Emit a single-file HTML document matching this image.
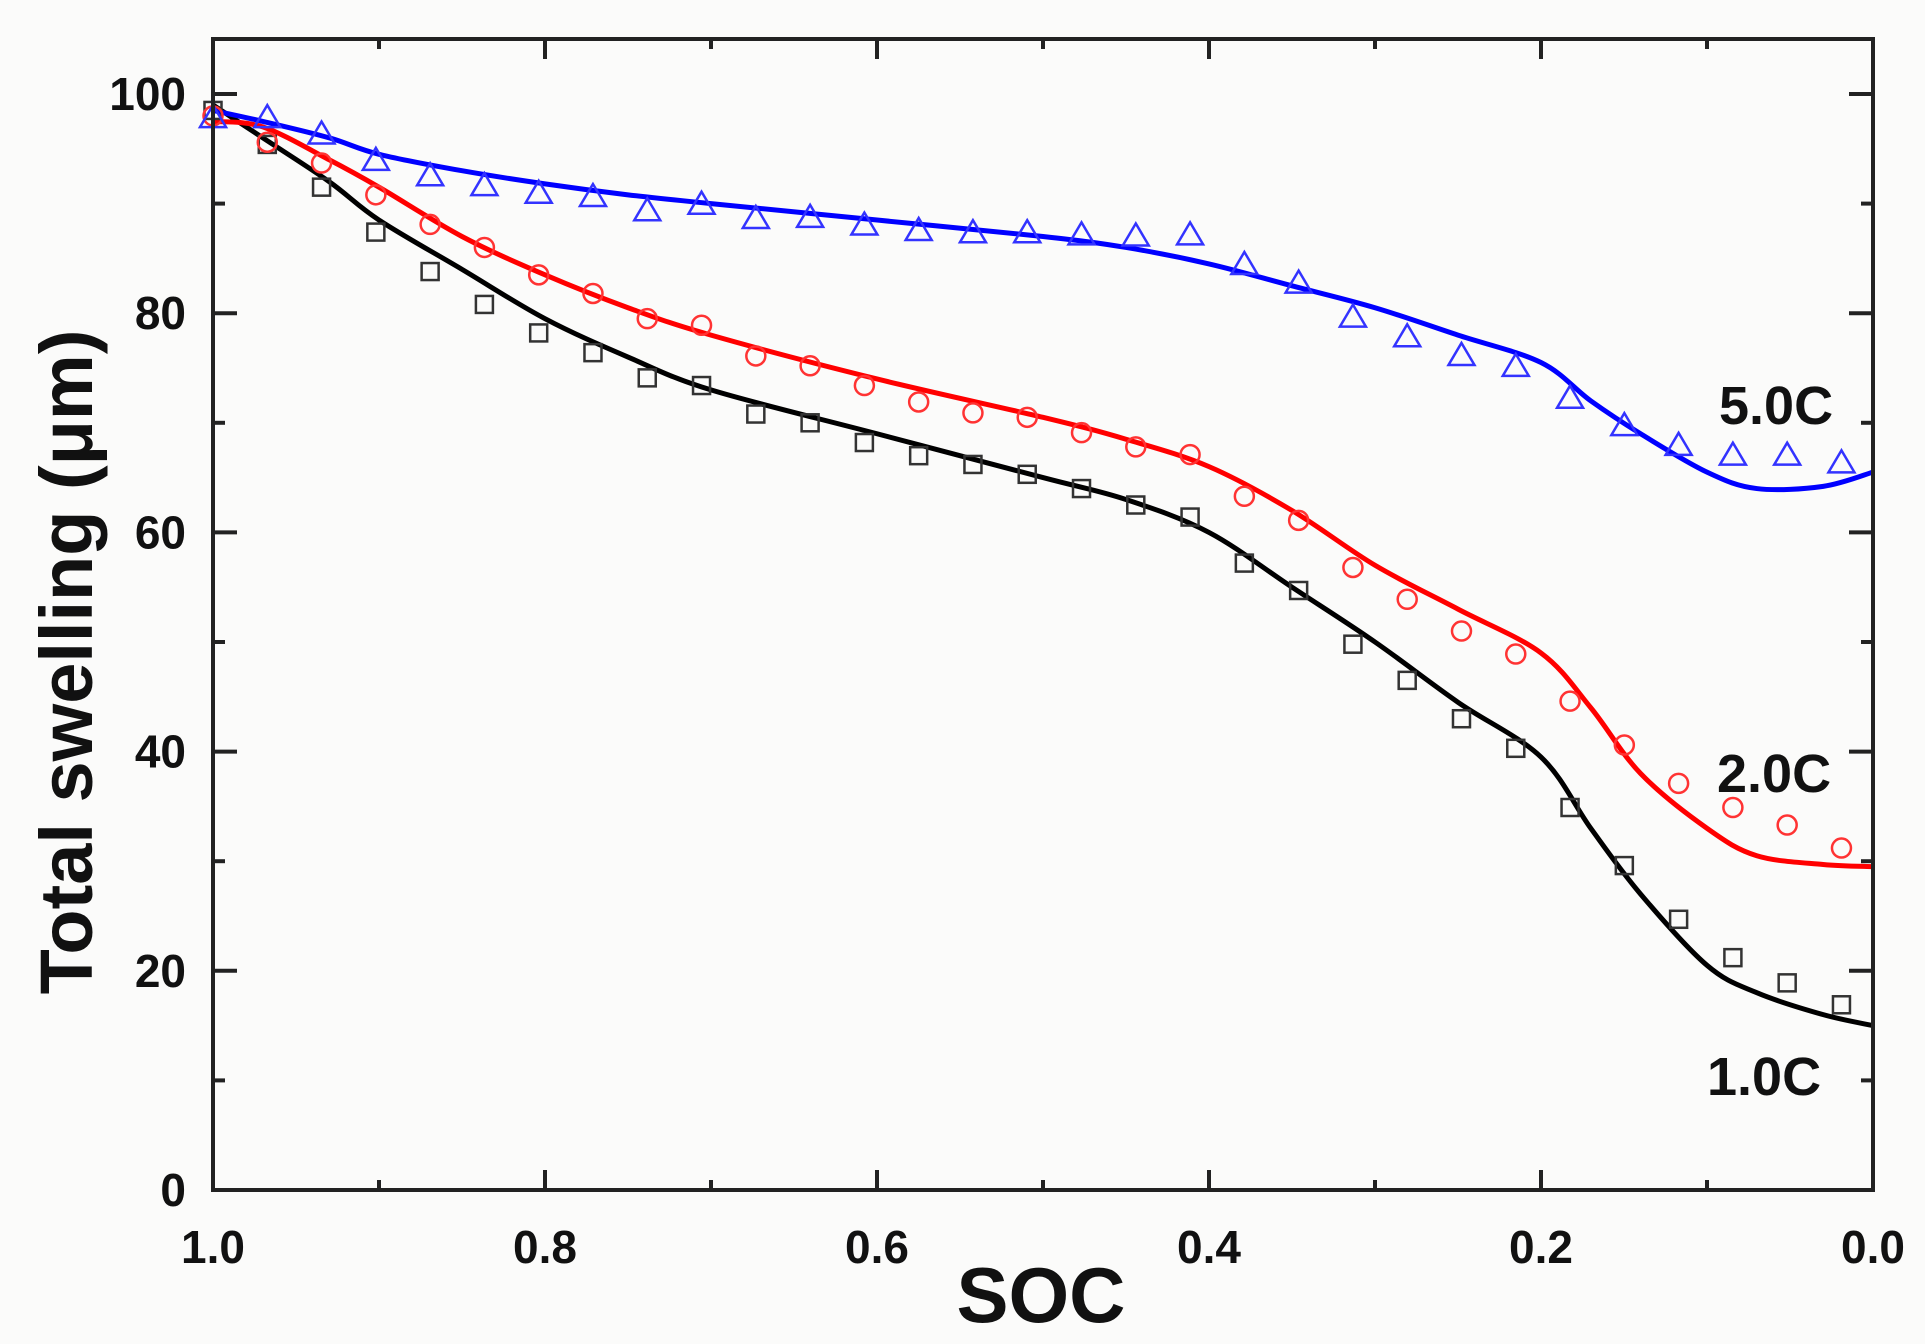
<!DOCTYPE html>
<html><head><meta charset="utf-8"><style>
html,body{margin:0;padding:0;background:#fbfbfa;}
svg{display:block;font-family:"Liberation Sans",Arial,sans-serif;font-weight:bold;}
</style></head><body>
<svg id="chart" width="1925" height="1344" viewBox="0 0 1925 1344" xmlns="http://www.w3.org/2000/svg">
<rect width="1925" height="1344" fill="#fbfbfa"/>
<g id="marks"></g>
<rect x="213" y="39" width="1660" height="1151" fill="none" stroke="#222" stroke-width="4"/>
<g id="ticks"></g>
<text x="1041" y="1322" font-size="78" text-anchor="middle" fill="#111">SOC</text>
<text transform="translate(92,662) rotate(-90)" font-size="74" text-anchor="middle" fill="#111">Total swelling (μm)</text>
<text x="1719" y="424" font-size="54" fill="#111">5.0C</text>
<text x="1717" y="792" font-size="54" fill="#111">2.0C</text>
<text x="1707" y="1095" font-size="54" fill="#111">1.0C</text>
</svg>
<script>
const xTicks=[1.0,0.8,0.6,0.4,0.2,0.0];
const xTickLabels=["1.0","0.8","0.6","0.4","0.2","0.0"];
const yTicks=[0,20,40,60,80,100];
const yTickLabels=["0","20","40","60","80","100"];
const black=[98.5,95.4,91.5,87.4,83.8,80.8,78.2,76.4,74.1,73.4,70.8,70.0,68.2,67.0,66.2,65.3,64.0,62.5,61.4,57.2,54.7,49.8,46.5,43.0,40.3,34.9,29.6,24.7,21.2,18.9,16.9];
const red=[98,95.6,93.7,90.8,88.1,86.0,83.5,81.8,79.5,78.9,76.1,75.2,73.4,71.9,70.9,70.5,69.1,67.8,67.1,63.3,61.1,56.8,53.9,51.0,48.9,44.6,40.6,37.1,34.9,33.3,31.2];
const blue=[97.8,97.8,96.3,93.9,92.5,91.6,90.9,90.6,89.3,89.9,88.6,88.7,88.0,87.5,87.3,87.3,87.1,87.0,87.1,84.4,82.7,79.6,77.8,76.1,75.1,72.2,69.7,67.9,67.0,67.0,66.3];
const fitSoc=[1.0,0.97,0.93,0.9,0.85,0.8,0.75,0.7,0.6,0.5,0.45,0.4,0.35,0.3,0.25,0.2,0.17,0.14,0.1,0.07,0.03,0.0];
const fitBlack=[99,96,92,88.5,84,79.5,76,73,69,65,63,60,55,50,44.5,39.5,33,27,20.5,18,16,15];
const fitRed=[97.5,97,94,91.5,87,83.5,80.5,78,74,70.5,68.5,66,62,57,53,49,44,38,33,30.5,29.7,29.5];
const fitBlue=[98.5,97.5,96,94.5,93,91.8,90.8,90,88.5,87,86,84.5,82.5,80.5,78,75.5,72,69,65.5,64,64.2,65.5];
const SOC_STEP=0.0327;
const X=s=>213+(1-s)*1660;
const Y=v=>1190-v*10.96;
const NS="http://www.w3.org/2000/svg";
const marks=document.getElementById('marks'), ticks=document.getElementById('ticks');
function mk(t,a,p){const e=document.createElementNS(NS,t);for(const k in a)e.setAttribute(k,a[k]);p.appendChild(e);return e;}
xTicks.forEach((s,i)=>{
 const x=X(s);
 const a=mk('line',{x1:x,x2:x,y1:1190,y2:1170,stroke:'#222','stroke-width':4},ticks);
 
 
 const b=mk('line',{x1:x,x2:x,y1:39,y2:59,stroke:'#222','stroke-width':4},ticks);
 
 
 if(i<xTicks.length-1){const xm=X(s-0.1);
  const m=mk('line',{x1:xm,x2:xm,y1:1190,y2:1180,stroke:'#222','stroke-width':4},ticks);
  
  
  const m2=mk('line',{x1:xm,x2:xm,y1:39,y2:49,stroke:'#222','stroke-width':4},ticks);
  
  }
 const t=mk('text',{x:x,y:1263,'font-size':46,'text-anchor':'middle',fill:'#111'},ticks);
 t.textContent=xTickLabels[i];
 
 
});
yTicks.forEach((v,i)=>{
 const y=Y(v);
 const a=mk('line',{x1:213,x2:237,y1:y,y2:y,stroke:'#222','stroke-width':4},ticks);
 
 
 const b=mk('line',{x1:1873,x2:1849,y1:y,y2:y,stroke:'#222','stroke-width':4},ticks);
 
 
 if(i<yTicks.length-1){const ym=Y(v+10);
  const m=mk('line',{x1:213,x2:225,y1:ym,y2:ym,stroke:'#222','stroke-width':4},ticks);
  
  
  const m2=mk('line',{x1:1873,x2:1861,y1:ym,y2:ym,stroke:'#222','stroke-width':4},ticks);
  
  }
 const t=mk('text',{x:186,y:y+16,'font-size':46,'text-anchor':'end',fill:'#111'},ticks);
 t.textContent=yTickLabels[i];
 
 
});
function pathD(xs,ys){const P=xs.map((s,i)=>[X(s),Y(ys[i])]);let d='M'+P[0][0]+','+P[0][1];
 for(let i=0;i<P.length-1;i++){const p0=P[i-1]||P[i],p1=P[i],p2=P[i+1],p3=P[i+2]||p2;
  d+=` C${p1[0]+(p2[0]-p0[0])/6},${p1[1]+(p2[1]-p0[1])/6} ${p2[0]-(p3[0]-p1[0])/6},${p2[1]-(p3[1]-p1[1])/6} ${p2[0]},${p2[1]}`;}
 return d;}
[[fitBlack,'#000','fit-line-1c'],[fitRed,'#f00','fit-line-2c'],[fitBlue,'#00f','fit-line-5c']].forEach(([ys,c,n])=>{
 const p=mk('path',{d:pathD(fitSoc,ys),fill:'none',stroke:c,'stroke-width':5},marks);
 
 
});
black.forEach((v,i)=>{const x=X(1-i*SOC_STEP),y=Y(v);
 const r=mk('rect',{x:x-8.5,y:y-8.5,width:17,height:17,fill:'none',stroke:'#333','stroke-width':2.5},marks);
 
 });
red.forEach((v,i)=>{const x=X(1-i*SOC_STEP),y=Y(v);
 const c=mk('circle',{cx:x,cy:y,r:9.5,fill:'none',stroke:'#f33','stroke-width':2.5},marks);
 
 });
blue.forEach((v,i)=>{const x=X(1-i*SOC_STEP),y=Y(v);
 const t=mk('polygon',{points:`${x},${y-13} ${x-13},${y+9} ${x+13},${y+9}`,fill:'none',stroke:'#33f','stroke-width':2.5},marks);
 
 });
</script>
</body></html>
